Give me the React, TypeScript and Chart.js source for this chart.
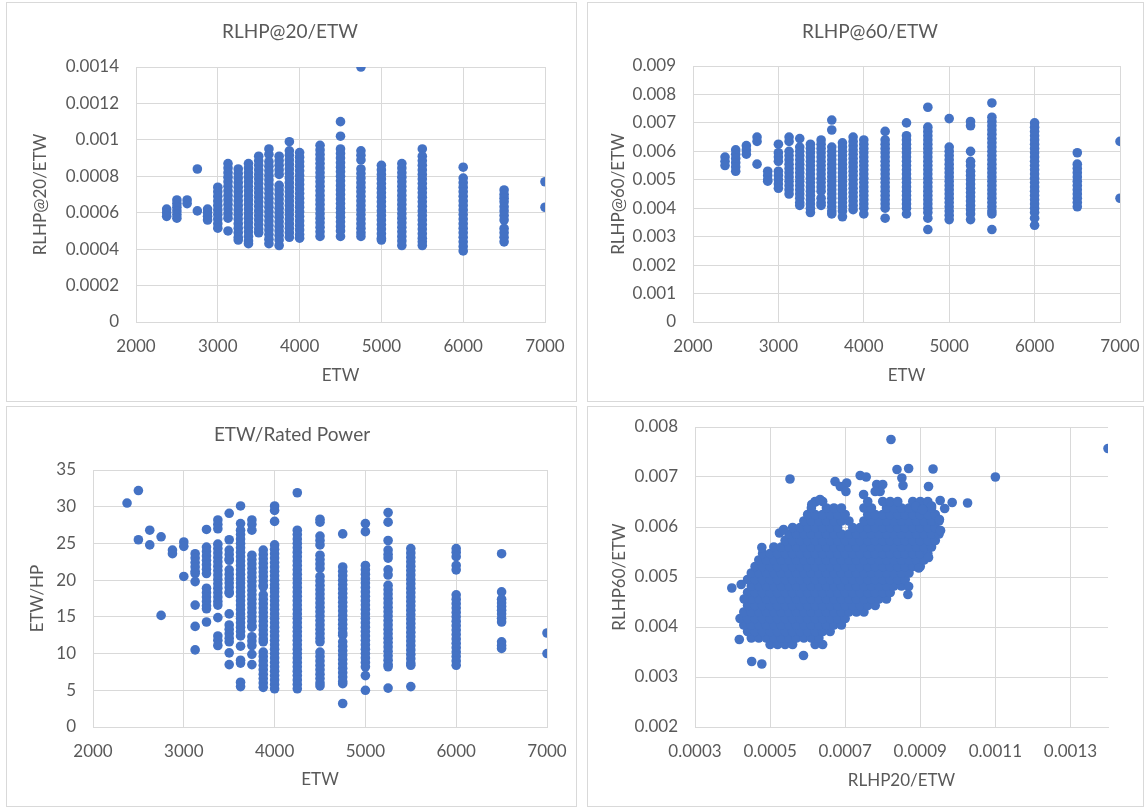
import React, { useEffect, useRef } from "react";
import { Chart, registerables } from "chart.js";

Chart.register(...registerables);

const FONT = "Lato, 'Open Sans', sans-serif";
const BLUE = "#4472c4";
const GRID = "#d9d9d9";
const TEXT = "#595959";

// Equivalent test weight classes (lb)
const etwClasses = [2375, 2500, 2625, 2750, 2875, 3000, 3125, 3250, 3375, 3500, 3625, 3750, 3875, 4000, 4250, 4500, 4750, 5000, 5250, 5500, 6000, 6500, 7000];

// RLHP@20 / ETW, one list per ETW class
const rlhp20ByEtw: number[][] = [
  [0.00062, 0.0006, 0.00058],
  [0.00067, 0.00065, 0.00063, 0.00061, 0.00059, 0.00057],
  [0.00067, 0.00065],
  [0.00084, 0.00061],
  [0.00062, 0.0006, 0.00058, 0.00056],
  [0.00074, 0.000715, 0.00069, 0.000665, 0.00064, 0.000615, 0.00059, 0.000565, 0.00054, 0.000515],
  [0.00087, 0.000845, 0.00082, 0.000795, 0.00077, 0.000745, 0.00072, 0.000695, 0.00067, 0.000645, 0.00062, 0.000595, 0.00057, 0.0005],
  [0.00084, 0.000815, 0.00079, 0.000765, 0.00074, 0.000715, 0.00069, 0.000665, 0.00064, 0.000615, 0.00059, 0.000565, 0.00054, 0.000515, 0.00049, 0.000465, 0.00045],
  [0.00087, 0.000845, 0.00082, 0.000795, 0.00077, 0.000745, 0.00072, 0.000695, 0.00067, 0.000645, 0.00062, 0.000595, 0.00057, 0.000545, 0.00052, 0.000495, 0.00047, 0.000445, 0.00043],
  [0.00091, 0.000885, 0.00086, 0.000835, 0.00081, 0.000785, 0.00076, 0.000735, 0.00071, 0.000685, 0.00066, 0.000635, 0.00061, 0.000585, 0.00056, 0.000535, 0.00051, 0.00049],
  [0.00095, 0.00092, 0.00088, 0.000855, 0.00083, 0.000805, 0.00078, 0.000755, 0.00073, 0.000705, 0.00068, 0.000655, 0.00063, 0.000605, 0.00058, 0.000555, 0.00053, 0.000505, 0.00048, 0.000455, 0.00043],
  [0.00091, 0.000885, 0.00086, 0.000835, 0.00081, 0.00075, 0.000725, 0.0007, 0.000675, 0.00065, 0.000625, 0.0006, 0.000575, 0.00055, 0.000525, 0.0005, 0.000475, 0.00045, 0.00042],
  [0.00099, 0.00094, 0.000915, 0.00089, 0.000865, 0.00084, 0.000815, 0.00079, 0.000765, 0.00074, 0.000715, 0.00069, 0.000665, 0.00064, 0.000615, 0.00059, 0.000565, 0.00054, 0.000515, 0.00049, 0.000465],
  [0.00093, 0.000905, 0.00088, 0.000855, 0.00083, 0.000805, 0.00078, 0.000755, 0.00073, 0.000705, 0.00068, 0.000655, 0.00063, 0.000605, 0.00058, 0.000555, 0.00053, 0.000505, 0.00048, 0.00046],
  [0.00097, 0.000945, 0.00092, 0.000895, 0.00087, 0.000845, 0.00082, 0.000795, 0.00077, 0.000745, 0.00072, 0.000695, 0.00067, 0.000645, 0.00062, 0.000595, 0.00057, 0.000545, 0.00052, 0.000495, 0.00047],
  [0.0011, 0.00102, 0.00095, 0.000925, 0.0009, 0.000875, 0.00085, 0.000825, 0.0008, 0.000775, 0.00075, 0.000725, 0.0007, 0.000675, 0.00065, 0.000625, 0.0006, 0.000575, 0.00055, 0.000525, 0.0005, 0.00047],
  [0.0014, 0.00094, 0.000915, 0.00089, 0.00084, 0.000815, 0.00079, 0.000765, 0.00074, 0.000715, 0.00069, 0.000665, 0.00064, 0.000615, 0.00059, 0.000565, 0.00054, 0.000515, 0.00049, 0.00047],
  [0.00086, 0.000835, 0.00081, 0.000785, 0.00076, 0.000735, 0.00071, 0.000685, 0.00066, 0.000635, 0.00061, 0.000585, 0.00056, 0.000535, 0.00051, 0.000485, 0.00046, 0.00045],
  [0.00087, 0.000845, 0.00082, 0.000795, 0.00077, 0.000745, 0.00072, 0.000695, 0.00067, 0.000645, 0.00062, 0.000595, 0.00057, 0.000545, 0.00052, 0.000495, 0.00047, 0.000445, 0.00042],
  [0.00095, 0.00091, 0.000885, 0.00086, 0.000835, 0.00081, 0.000785, 0.00076, 0.000735, 0.00071, 0.000685, 0.00066, 0.000635, 0.00061, 0.000585, 0.00056, 0.000535, 0.00051, 0.000485, 0.00046, 0.00044, 0.00042],
  [0.00085, 0.00079, 0.000765, 0.00074, 0.000715, 0.00069, 0.000665, 0.00064, 0.000615, 0.00059, 0.000565, 0.00054, 0.000515, 0.00049, 0.000465, 0.00044, 0.000415, 0.00039],
  [0.000725, 0.0007, 0.00068, 0.00066, 0.000633, 0.00061, 0.000585, 0.00056, 0.000514, 0.00049, 0.000465, 0.00044],
  [0.00077, 0.00063],
];

// RLHP@60 / ETW, one list per ETW class
const rlhp60ByEtw: number[][] = [
  [0.0058, 0.00565, 0.0055],
  [0.00605, 0.0059, 0.00575, 0.0056, 0.00545, 0.0053],
  [0.0062, 0.00605, 0.0059],
  [0.0065, 0.00635, 0.00555],
  [0.0053, 0.00515, 0.005, 0.00495],
  [0.00625, 0.00595, 0.0058, 0.00565, 0.0053, 0.00515, 0.005, 0.00485, 0.0047],
  [0.0065, 0.00635, 0.006, 0.00585, 0.0057, 0.00555, 0.0054, 0.00525, 0.0051, 0.00495, 0.0048, 0.00465, 0.0045],
  [0.00645, 0.00615, 0.006, 0.00585, 0.0057, 0.00555, 0.0054, 0.00525, 0.0051, 0.00495, 0.0048, 0.00465, 0.0045, 0.00435, 0.0042, 0.0041],
  [0.00625, 0.0061, 0.00595, 0.0058, 0.00565, 0.0055, 0.00535, 0.0052, 0.00505, 0.0049, 0.00475, 0.0046, 0.00445, 0.0043, 0.00415, 0.004, 0.00385],
  [0.0064, 0.00625, 0.0061, 0.00595, 0.0058, 0.00565, 0.0055, 0.00535, 0.0052, 0.00505, 0.0049, 0.00475, 0.0046, 0.00435, 0.0042, 0.0041],
  [0.0071, 0.00675, 0.00615, 0.006, 0.00585, 0.0057, 0.00555, 0.0054, 0.00525, 0.0051, 0.00495, 0.0048, 0.00465, 0.0045, 0.00435, 0.0042, 0.00405, 0.0039, 0.0038],
  [0.0063, 0.00615, 0.006, 0.00585, 0.0057, 0.00555, 0.0054, 0.00525, 0.0051, 0.00495, 0.0048, 0.00465, 0.0045, 0.00435, 0.0042, 0.00405, 0.0039, 0.0037],
  [0.0065, 0.00635, 0.0062, 0.00605, 0.0059, 0.00575, 0.0056, 0.00545, 0.0053, 0.00515, 0.005, 0.00485, 0.0047, 0.00455, 0.0044, 0.00425, 0.0041, 0.00395],
  [0.0064, 0.00625, 0.0061, 0.00595, 0.0058, 0.00565, 0.0055, 0.00535, 0.0052, 0.00505, 0.0049, 0.00475, 0.0046, 0.00445, 0.0043, 0.00415, 0.004, 0.0038],
  [0.0067, 0.0064, 0.00625, 0.0061, 0.00595, 0.0058, 0.00565, 0.0055, 0.00535, 0.0052, 0.00505, 0.0049, 0.00475, 0.0046, 0.00445, 0.0043, 0.00415, 0.004, 0.00365],
  [0.007, 0.00655, 0.0064, 0.00625, 0.0061, 0.00595, 0.0058, 0.00565, 0.0055, 0.00535, 0.0052, 0.00505, 0.0049, 0.00475, 0.0046, 0.00445, 0.0043, 0.00415, 0.004, 0.0038],
  [0.00755, 0.00685, 0.0067, 0.00655, 0.0064, 0.00625, 0.0061, 0.00595, 0.0058, 0.00565, 0.0055, 0.00535, 0.0052, 0.00505, 0.0049, 0.00475, 0.0046, 0.00445, 0.0043, 0.00415, 0.004, 0.00385, 0.00365, 0.00325],
  [0.00715, 0.00615, 0.006, 0.00585, 0.0057, 0.00555, 0.0054, 0.00525, 0.0051, 0.00495, 0.0048, 0.00465, 0.0045, 0.00435, 0.0042, 0.00405, 0.0039, 0.00375, 0.0036],
  [0.00705, 0.0069, 0.006, 0.00565, 0.0055, 0.0053, 0.00515, 0.005, 0.00485, 0.0047, 0.00455, 0.0044, 0.00425, 0.0041, 0.00395, 0.0038, 0.0036],
  [0.0077, 0.0072, 0.00705, 0.0069, 0.00675, 0.0066, 0.00645, 0.0063, 0.00615, 0.006, 0.00585, 0.0057, 0.00555, 0.0054, 0.00525, 0.0051, 0.00495, 0.0048, 0.00465, 0.0045, 0.00435, 0.0042, 0.00405, 0.0039, 0.0038, 0.00325],
  [0.007, 0.00685, 0.0067, 0.00655, 0.0064, 0.00625, 0.0061, 0.00595, 0.0058, 0.00565, 0.0055, 0.00535, 0.0052, 0.00505, 0.0049, 0.00475, 0.0046, 0.00445, 0.0043, 0.00415, 0.004, 0.00385, 0.00365, 0.0034],
  [0.00595, 0.00555, 0.0054, 0.00525, 0.0051, 0.00495, 0.0048, 0.00465, 0.0045, 0.00435, 0.0042, 0.00405],
  [0.00635, 0.00435],
];

// ETW / rated HP, one list per ETW class
const etwPerHpByEtw: number[][] = [
  [30.5],
  [32.2, 25.5],
  [26.8, 24.8],
  [25.9, 15.2],
  [24.1, 23.6],
  [25.2, 24.6, 20.5],
  [23.6, 23.0, 22.4, 21.8, 21.2, 20.9, 19.8, 16.6, 13.7, 10.5],
  [26.9, 24.5, 23.9, 23.3, 22.7, 22.1, 21.5, 20.9, 18.9, 18.3, 17.7, 17.1, 16.5, 16.1, 14.3],
  [28.2, 27.6, 27.0, 24.9, 24.3, 23.7, 23.1, 22.5, 21.9, 21.3, 20.7, 20.1, 19.5, 18.9, 18.3, 17.7, 17.1, 16.6, 14.9, 12.4, 11.8, 11.1],
  [29.1, 25.5, 24.1, 23.5, 22.9, 22.7, 21.4, 20.8, 20.2, 19.6, 19.0, 18.4, 18.2, 15.4, 13.9, 13.3, 12.7, 12.1, 11.6, 10.1, 8.5],
  [30.1, 27.7, 26.8, 26.2, 25.6, 25.0, 24.4, 23.8, 23.2, 22.6, 22.0, 21.4, 20.8, 20.2, 19.6, 19.0, 18.4, 17.8, 17.2, 16.6, 16.0, 15.4, 14.8, 14.2, 13.6, 13.0, 12.4, 11.0, 9.1, 8.7, 6.1, 5.5],
  [28.2, 27.6, 26.8, 23.4, 22.8, 22.2, 21.6, 21.0, 20.4, 19.8, 19.2, 18.6, 18.0, 17.4, 16.8, 16.2, 15.6, 15.0, 14.4, 13.8, 13.6, 12.3, 11.7, 11.1, 9.9, 8.5],
  [24.1, 23.5, 22.9, 22.3, 21.7, 21.1, 20.5, 19.9, 19.3, 19.1, 18.0, 17.4, 16.8, 16.2, 15.6, 15.0, 14.4, 13.8, 13.2, 12.6, 12.0, 11.6, 10.2, 9.6, 9.0, 8.4, 7.8, 7.2, 6.6, 6.0, 5.4],
  [30.1, 29.5, 28.0, 24.8, 24.2, 23.6, 23.0, 22.4, 21.8, 21.2, 20.6, 20.0, 19.4, 18.9, 18.4, 17.8, 17.2, 16.6, 16.0, 15.4, 14.8, 14.2, 13.6, 13.0, 12.4, 11.8, 11.2, 10.6, 10.0, 9.4, 8.8, 8.2, 7.6, 7.0, 6.4, 5.8, 5.2],
  [31.9, 26.8, 26.2, 25.6, 25.0, 24.4, 23.8, 23.2, 22.6, 22.0, 21.4, 20.8, 20.2, 19.6, 19.0, 18.4, 17.8, 17.2, 16.6, 16.0, 15.4, 14.8, 14.2, 13.6, 13.0, 12.4, 11.8, 11.2, 10.6, 10.0, 9.4, 8.8, 8.2, 7.6, 7.0, 6.4, 5.8, 5.2],
  [28.3, 27.9, 26.0, 25.4, 24.8, 23.4, 22.8, 22.2, 21.6, 20.5, 19.9, 19.3, 18.7, 18.1, 17.5, 16.9, 16.3, 15.7, 15.1, 14.5, 13.9, 13.3, 12.7, 12.1, 11.6, 10.2, 9.6, 9.0, 8.4, 7.8, 7.2, 6.6, 6.0, 5.6],
  [26.3, 21.8, 21.2, 20.6, 20.0, 19.4, 18.8, 18.2, 17.6, 17.0, 16.4, 15.8, 15.2, 14.6, 14.0, 13.4, 12.8, 12.5, 11.6, 11.0, 10.4, 9.8, 9.2, 8.6, 8.0, 7.4, 6.8, 6.2, 5.9, 3.2],
  [27.7, 26.6, 22.0, 21.4, 20.8, 20.2, 19.6, 19.0, 18.4, 17.8, 17.2, 16.6, 16.0, 15.4, 14.8, 14.2, 13.6, 13.0, 12.4, 11.8, 11.2, 10.6, 10.0, 9.4, 8.8, 8.2, 7.0, 5.0],
  [29.2, 27.9, 25.4, 24.1, 23.5, 23.0, 21.4, 20.7, 19.3, 18.7, 18.1, 17.5, 16.9, 16.3, 15.7, 15.1, 14.5, 13.9, 13.3, 12.7, 12.1, 11.5, 10.9, 10.3, 9.7, 9.1, 8.5, 8.2, 5.3],
  [24.3, 23.7, 23.1, 22.5, 21.9, 21.3, 20.7, 20.1, 19.5, 18.9, 18.3, 17.7, 17.1, 16.5, 15.9, 15.3, 14.7, 14.1, 13.5, 12.9, 12.3, 11.7, 11.1, 10.5, 9.9, 9.3, 8.7, 8.4, 5.5],
  [24.3, 23.8, 23.2, 22.0, 21.4, 18.0, 17.4, 16.8, 16.2, 15.6, 15.0, 14.4, 13.8, 13.2, 12.6, 12.0, 11.4, 10.8, 10.2, 9.6, 9.0, 8.4],
  [23.6, 18.4, 17.4, 16.9, 16.4, 15.9, 15.4, 14.8, 14.3, 11.6, 11.1, 10.7],
  [12.8, 10.0],
];

// RLHP60/ETW vs RLHP20/ETW: dense core, grouped by RLHP60/ETW level
const coreRlhp60Levels = [0.00365, 0.00378, 0.00391, 0.00404, 0.00417, 0.0043, 0.00443, 0.00456, 0.00469, 0.00482, 0.00495, 0.00508, 0.00521, 0.00534, 0.00547, 0.0056, 0.00573, 0.00586, 0.00599, 0.00612, 0.00625, 0.00638, 0.00651];
const coreRlhp20AtLevel: number[][] = [
  [0.0005, 0.00052, 0.00054, 0.00056, 0.00062, 0.00064],
  [0.00045, 0.00047, 0.00049, 0.00051, 0.00053, 0.00055, 0.00057, 0.00059, 0.00061, 0.00063],
  [0.00044, 0.00046, 0.00048, 0.0005, 0.00052, 0.00054, 0.00056, 0.00058, 0.0006, 0.00062, 0.00064, 0.00066],
  [0.00043, 0.00045, 0.00047, 0.00049, 0.00051, 0.00053, 0.00055, 0.00057, 0.00059, 0.00061, 0.00063, 0.00065, 0.00067, 0.00069],
  [0.00042, 0.00044, 0.00046, 0.00048, 0.0005, 0.00052, 0.00054, 0.00056, 0.00058, 0.0006, 0.00062, 0.00064, 0.00066, 0.00068, 0.0007],
  [0.00043, 0.00045, 0.00047, 0.00049, 0.00051, 0.00053, 0.00055, 0.00057, 0.00059, 0.00061, 0.00063, 0.00065, 0.00067, 0.00069, 0.00071, 0.00073, 0.00075],
  [0.00044, 0.00046, 0.00048, 0.0005, 0.00052, 0.00054, 0.00056, 0.00058, 0.0006, 0.00062, 0.00064, 0.00066, 0.00068, 0.0007, 0.00072, 0.00074, 0.00076, 0.00078],
  [0.00045, 0.00047, 0.00049, 0.00051, 0.00053, 0.00055, 0.00057, 0.00059, 0.00061, 0.00063, 0.00065, 0.00067, 0.00069, 0.00071, 0.00073, 0.00075, 0.00077, 0.00079, 0.00081],
  [0.00044, 0.00046, 0.00048, 0.0005, 0.00052, 0.00054, 0.00056, 0.00058, 0.0006, 0.00062, 0.00064, 0.00066, 0.00068, 0.0007, 0.00072, 0.00074, 0.00076, 0.00078, 0.0008, 0.00082],
  [0.00045, 0.00047, 0.00049, 0.00051, 0.00053, 0.00055, 0.00057, 0.00059, 0.00061, 0.00063, 0.00065, 0.00067, 0.00069, 0.00071, 0.00073, 0.00075, 0.00077, 0.00079, 0.00081, 0.00083, 0.00085],
  [0.00044, 0.00046, 0.00048, 0.0005, 0.00052, 0.00054, 0.00056, 0.00058, 0.0006, 0.00062, 0.00064, 0.00066, 0.00068, 0.0007, 0.00072, 0.00074, 0.00076, 0.00078, 0.0008, 0.00082, 0.00084, 0.00086],
  [0.00045, 0.00047, 0.00049, 0.00051, 0.00053, 0.00055, 0.00057, 0.00059, 0.00061, 0.00063, 0.00065, 0.00067, 0.00069, 0.00071, 0.00073, 0.00075, 0.00077, 0.00079, 0.00081, 0.00083, 0.00085, 0.00087],
  [0.00046, 0.00048, 0.0005, 0.00052, 0.00054, 0.00056, 0.00058, 0.0006, 0.00062, 0.00064, 0.00066, 0.00068, 0.0007, 0.00072, 0.00074, 0.00076, 0.00078, 0.0008, 0.00082, 0.00084, 0.00086, 0.00088, 0.0009],
  [0.00047, 0.00049, 0.00051, 0.00053, 0.00055, 0.00057, 0.00059, 0.00061, 0.00063, 0.00065, 0.00067, 0.00069, 0.00071, 0.00073, 0.00075, 0.00077, 0.00079, 0.00081, 0.00083, 0.00085, 0.00087, 0.00089, 0.00091],
  [0.00048, 0.0005, 0.00052, 0.00054, 0.00056, 0.00058, 0.0006, 0.00062, 0.00064, 0.00066, 0.00068, 0.0007, 0.00072, 0.00074, 0.00076, 0.00078, 0.0008, 0.00082, 0.00084, 0.00086, 0.00088, 0.0009, 0.00092],
  [0.00051, 0.00053, 0.00055, 0.00057, 0.00059, 0.00061, 0.00063, 0.00065, 0.00067, 0.00069, 0.00071, 0.00073, 0.00075, 0.00077, 0.00079, 0.00081, 0.00083, 0.00085, 0.00087, 0.00089, 0.00091, 0.00093],
  [0.00054, 0.00056, 0.00058, 0.0006, 0.00062, 0.00064, 0.00066, 0.00068, 0.0007, 0.00072, 0.00074, 0.00076, 0.00078, 0.0008, 0.00082, 0.00084, 0.00086, 0.00088, 0.0009, 0.00092, 0.00094],
  [0.00055, 0.00057, 0.00059, 0.00061, 0.00063, 0.00065, 0.00067, 0.00069, 0.00071, 0.00073, 0.00075, 0.00077, 0.00079, 0.00081, 0.00083, 0.00085, 0.00087, 0.00089, 0.00091, 0.00093, 0.00095],
  [0.00056, 0.00058, 0.0006, 0.00062, 0.00064, 0.00066, 0.00068, 0.00072, 0.00074, 0.00076, 0.00078, 0.0008, 0.00082, 0.00084, 0.00086, 0.00088, 0.0009, 0.00092, 0.00094],
  [0.00059, 0.00061, 0.00063, 0.00065, 0.00067, 0.00069, 0.00071, 0.00075, 0.00077, 0.00079, 0.00081, 0.00083, 0.00085, 0.00087, 0.00089, 0.00091, 0.00093, 0.00095],
  [0.0006, 0.00062, 0.00064, 0.00066, 0.00068, 0.0007, 0.00076, 0.00078, 0.0008, 0.00082, 0.00084, 0.00086, 0.00088, 0.0009, 0.00092, 0.00094],
  [0.00061, 0.00065, 0.00067, 0.00069, 0.00075, 0.00077, 0.00081, 0.00083, 0.00085, 0.00087, 0.00089, 0.00091, 0.00093],
  [0.00062, 0.00064, 0.00076, 0.0008, 0.00082, 0.00084, 0.00088, 0.0009, 0.00092],
];
// scattered points outside the core
const outlierRlhp20 = [0.000822, 0.000553, 0.000451, 0.000478, 0.000589, 0.000398, 0.000423, 0.000418, 0.000431, 0.000838, 0.000869, 0.000851, 0.000934, 0.000922, 0.000854, 0.00074, 0.000756, 0.000673, 0.000687, 0.000704, 0.000702, 0.000784, 0.0008, 0.000793, 0.00078, 0.000922, 0.000869, 0.000867, 0.000525, 0.000536, 0.00062, 0.000633, 0.000611, 0.000478, 0.0014, 0.0011, 0.001026, 0.000985, 0.000953, 0.000965, 0.00093, 0.000888, 0.000906, 0.000951, 0.000954, 0.000896, 0.000749];
const outlierRlhp60 = [0.00775, 0.00696, 0.00331, 0.00326, 0.00343, 0.00478, 0.00485, 0.00375, 0.00456, 0.00715, 0.00717, 0.00698, 0.00716, 0.00681, 0.00683, 0.00703, 0.007, 0.00691, 0.00681, 0.00688, 0.00671, 0.00685, 0.00685, 0.00671, 0.00671, 0.00539, 0.00481, 0.00465, 0.00588, 0.00595, 0.0065, 0.00655, 0.00645, 0.00559, 0.00757, 0.007, 0.00648, 0.00649, 0.00653, 0.00637, 0.00642, 0.00641, 0.00635, 0.00615, 0.00593, 0.00518, 0.00665];

// axis ticks
const etwTicks = [2000, 3000, 4000, 5000, 6000, 7000];
const rlhp20Ticks = [0, 0.0002, 0.0004, 0.0006, 0.0008, 0.001, 0.0012, 0.0014];
const rlhp60Ticks = [0, 0.001, 0.002, 0.003, 0.004, 0.005, 0.006, 0.007, 0.008, 0.009];
const etwHpTicks = [0, 5, 10, 15, 20, 25, 30, 35];
const scatterXTicks = [0.0003, 0.0005, 0.0007, 0.0009, 0.0011, 0.0013];
const scatterYTicks = [0.002, 0.003, 0.004, 0.005, 0.006, 0.007, 0.008];

type Pt = { x: number; y: number };

const byClass = (cols: number[][]): Pt[] =>
  cols.flatMap((vals, i) => vals.map((v) => ({ x: etwClasses[i], y: v })));

const corePoints: Pt[] = coreRlhp20AtLevel.flatMap((xs, i) => xs.map((x) => ({ x, y: coreRlhp60Levels[i] })));
const outlierPoints: Pt[] = outlierRlhp20.map((x, i) => ({ x, y: outlierRlhp60[i] }));

type Spec = {
  left: number; top: number; width: number; height: number;
  title?: string; titlePadTop?: number; titlePadBottom?: number;
  points: Pt[];
  xMin: number; xMax: number; xTicks: number[]; xTitle: string;
  yMin: number; yMax: number; yTicks: number[]; yTitle: string;
  yAxisWidth: number; xAxisHeight: number; padLeft: number; padRight: number; padTop: number;
  yTitlePad: number; xTitlePad: number; xTickPad: number; yTickPad: number;
};

const specs: Spec[] = [
  {
    left: 0, top: 0, width: 583, height: 405,
    title: "RLHP@20/ETW", titlePadTop: 20.5, titlePadBottom: 23.7,
    points: byClass(rlhp20ByEtw),
    xMin: 2000, xMax: 7000, xTicks: etwTicks, xTitle: "ETW",
    yMin: 0, yMax: 0.0014, yTicks: rlhp20Ticks, yTitle: "RLHP@20/ETW",
    yAxisWidth: 101, xAxisHeight: 83, padLeft: 35, padRight: 38, padTop: 0,
    yTitlePad: -4.2, xTitlePad: 18.8, xTickPad: 14.8, yTickPad: 17,
  },
  {
    left: 583, top: 0, width: 564, height: 405,
    title: "RLHP@60/ETW", titlePadTop: 20.5, titlePadBottom: 22.7,
    points: byClass(rlhp60ByEtw),
    xMin: 2000, xMax: 7000, xTicks: etwTicks, xTitle: "ETW",
    yMin: 0, yMax: 0.009, yTicks: rlhp60Ticks, yTitle: "RLHP@60/ETW",
    yAxisWidth: 73, xAxisHeight: 83, padLeft: 37, padRight: 27, padTop: 0,
    yTitlePad: -11.2, xTitlePad: 18.8, xTickPad: 14.8, yTickPad: 17,
  },
  {
    left: 0, top: 405, width: 583, height: 404,
    title: "ETW/Rated Power", titlePadTop: 18, titlePadBottom: 24.2,
    points: byClass(etwPerHpByEtw),
    xMin: 2000, xMax: 7000, xTicks: etwTicks, xTitle: "ETW",
    yMin: 0, yMax: 35, yTicks: etwHpTicks, yTitle: "ETW/HP",
    yAxisWidth: 56, xAxisHeight: 82, padLeft: 37, padRight: 36, padTop: 0,
    yTitlePad: -9.2, xTitlePad: 18.8, xTickPad: 14.8, yTickPad: 17,
  },
  {
    left: 583, top: 405, width: 564, height: 404,
    points: [...corePoints, ...outlierPoints],
    xMin: 0.0003, xMax: 0.0014, xTicks: scatterXTicks, xTitle: "RLHP20/ETW",
    yMin: 0.002, yMax: 0.008, yTicks: scatterYTicks, yTitle: "RLHP60/ETW",
    yAxisWidth: 112, xAxisHeight: 82, padLeft: 0, padRight: 39, padTop: 22,
    yTitlePad: 26.8, xTitlePad: 17.8, xTickPad: 14.8, yTickPad: 17,
  },
];

const tickFont = { family: FONT, size: 17, lineHeight: 1.2 };
const axisTitleFont = { family: FONT, size: 17, lineHeight: 1.2 };

function Panel({ spec }: { spec: Spec }) {
  const ref = useRef<HTMLCanvasElement | null>(null);
  useEffect(() => {
    if (!ref.current) return;
    const s = spec;
    const zeroPad = (sc: any) => {
      sc.paddingLeft = 0;
      sc.paddingRight = 0;
      sc.paddingTop = 0;
      sc.paddingBottom = 0;
    };
    const chart = new Chart(ref.current, {
      type: "scatter",
      data: {
        datasets: [
          {
            data: s.points,
            backgroundColor: BLUE,
            borderColor: BLUE,
            borderWidth: 0,
            pointRadius: 4.8,
            pointHoverRadius: 4.8,
          },
        ],
      },
      options: {
        animation: false,
        responsive: false,
        events: [],
        layout: { padding: { left: s.padLeft, right: s.padRight, top: s.padTop, bottom: 0 } },
        plugins: {
          legend: { display: false },
          tooltip: { enabled: false },
          title: s.title
            ? {
                display: true,
                text: s.title,
                color: TEXT,
                font: { family: FONT, size: 19, weight: "normal", lineHeight: 1.2 },
                padding: { top: s.titlePadTop, bottom: s.titlePadBottom },
              }
            : { display: false },
        },
        scales: {
          x: {
            type: "linear",
            position: "bottom",
            min: s.xMin,
            max: s.xMax,
            afterBuildTicks: (sc: any) => {
              sc.ticks = s.xTicks.map((v) => ({ value: v }));
            },
            afterFit: (sc: any) => {
              sc.height = s.xAxisHeight;
              zeroPad(sc);
            },
            ticks: {
              color: TEXT,
              font: tickFont,
              padding: s.xTickPad,
              maxRotation: 0,
              autoSkip: false,
              callback: (v: any) => String(v),
            },
            grid: { color: GRID, lineWidth: 1, drawTicks: false },
            border: { color: GRID },
            title: {
              display: true,
              text: s.xTitle,
              color: TEXT,
              font: axisTitleFont,
              padding: { top: 0, bottom: s.xTitlePad },
            },
          },
          y: {
            type: "linear",
            position: "left",
            min: s.yMin,
            max: s.yMax,
            afterBuildTicks: (sc: any) => {
              sc.ticks = s.yTicks.map((v) => ({ value: v }));
            },
            afterFit: (sc: any) => {
              sc.width = s.yAxisWidth;
              zeroPad(sc);
            },
            ticks: {
              color: TEXT,
              font: tickFont,
              padding: s.yTickPad,
              autoSkip: false,
              callback: (v: any) => String(v),
            },
            grid: { color: GRID, lineWidth: 1, drawTicks: false },
            border: { color: GRID },
            title: {
              display: true,
              text: s.yTitle,
              color: TEXT,
              font: axisTitleFont,
              padding: { top: s.yTitlePad, bottom: 0 },
            },
          },
        },
      } as any,
    });
    return () => chart.destroy();
  }, [spec]);

  return (
    <canvas
      ref={ref}
      width={spec.width}
      height={spec.height}
      style={{ position: "absolute", left: spec.left, top: spec.top, width: spec.width, height: spec.height }}
    />
  );
}

const frames = [
  { left: 6, top: 2, width: 571, height: 400 },
  { left: 587, top: 2, width: 557, height: 400 },
  { left: 6, top: 406, width: 571, height: 401 },
  { left: 587, top: 406, width: 557, height: 401 },
];

export default function App() {
  return (
    <div style={{ position: "absolute", left: 0, top: 0, width: 1147, height: 809, background: "#fff", overflow: "hidden" }}>
      {frames.map((f, i) => (
        <div
          key={"f" + i}
          style={{ position: "absolute", left: f.left, top: f.top, width: f.width, height: f.height, border: "1px solid #d9d9d9", boxSizing: "border-box" }}
        />
      ))}
      {specs.map((s, i) => (
        <Panel key={i} spec={s} />
      ))}
    </div>
  );
}
